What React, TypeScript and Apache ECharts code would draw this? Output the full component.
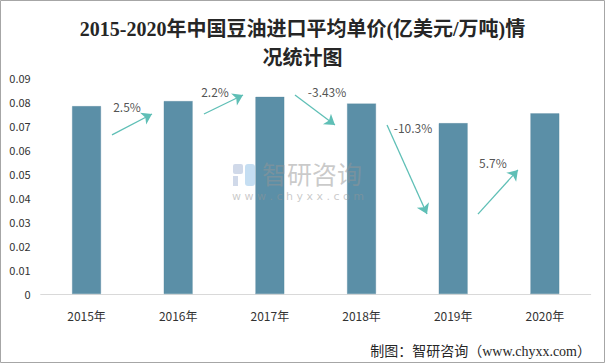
import React, { useEffect, useRef } from "react";
import * as echarts from "echarts";

const categories = ["2015年", "2016年", "2017年", "2018年", "2019年", "2020年"];
const prices = [0.0783, 0.0804, 0.0822, 0.0794, 0.0712, 0.0753];
const yTicks = [0, 0.01, 0.02, 0.03, 0.04, 0.05, 0.06, 0.07, 0.08, 0.09];
const growthLabels = ["2.5%", "2.2%", "-3.43%", "-10.3%", "5.7%"];
// arrow annotations in (category position, value) space
const arrowStarts: [number, number][] = [
  [0.278, 0.0663],
  [1.281, 0.075],
  [2.274, 0.0829],
  [3.278, 0.0704],
  [4.27, 0.0333],
];
const arrowEnds: [number, number][] = [
  [0.714, 0.075],
  [1.707, 0.0829],
  [2.71, 0.0704],
  [3.714, 0.0333],
  [4.706, 0.0517],
];
const labelPositions: [number, number][] = [
  [0.442, 0.0783],
  [1.402, 0.0842],
  [2.624, 0.0842],
  [3.562, 0.0692],
  [4.434, 0.055],
];

const TITLE_LINE1 = "2015-2020年中国豆油进口平均单价(亿美元/万吨)情";
const TITLE_LINE2 = "况统计图";
const SOURCE = "制图：智研咨询（www.chyxx.com）";

export default function App() {
  const ref = useRef<HTMLDivElement>(null);
  useEffect(() => {
    document.body.style.margin = "0";
    const chart = echarts.init(ref.current!, null, { renderer: "svg" });
    const sans = "'Noto Sans CJK SC', 'Noto Sans', sans-serif";
    const serif = "'Liberation Serif', 'DejaVu Serif', 'Noto Sans CJK SC', serif";
    const wm = "rgba(150,150,150,0.5)";
    chart.setOption({
      animation: false,
      backgroundColor: "#ffffff",
      grid: { left: 40.7, right: 14.3, top: 78, bottom: 69 },
      xAxis: [
        {
          type: "category",
          data: categories,
          axisLine: { lineStyle: { color: "#d9d9d9", width: 1 } },
          axisTick: { show: false },
          axisLabel: { color: "#333", fontSize: 12, fontFamily: sans, margin: 15 },
        },
        { type: "value", min: -0.5, max: 5.5, show: false },
      ],
      yAxis: {
        type: "value",
        min: 0,
        max: 0.09,
        interval: 0.01,
        axisLine: { show: false },
        axisTick: { show: false },
        splitLine: { show: false },
        axisLabel: {
          color: "#333",
          fontSize: 11,
          fontFamily: sans,
          margin: 10,
          formatter: (v: number) => {
            const t = yTicks.find((x) => Math.abs(x - v) < 1e-9);
            return t === 0 ? "0" : (t ?? v).toFixed(2);
          },
        },
      },
      series: [
        {
          type: "bar",
          data: prices,
          barWidth: 29,
          itemStyle: { color: "#5b8fa7", borderColor: "#4f8098", borderWidth: 0.5, borderType: "dotted" },
          xAxisIndex: 0,
        },
        {
          type: "lines",
          coordinateSystem: "cartesian2d",
          xAxisIndex: 1,
          yAxisIndex: 0,
          symbol: ["none", "arrow"],
          symbolSize: 10,
          lineStyle: { color: "#5fbfb6", width: 1.3, opacity: 1 },
          data: arrowStarts.map((s, i) => ({ coords: [s, arrowEnds[i]] })),
          z: 5,
        },
        {
          type: "scatter",
          xAxisIndex: 1,
          yAxisIndex: 0,
          symbolSize: 1,
          itemStyle: { color: "transparent" },
          data: labelPositions.map((p, i) => ({ value: p, name: growthLabels[i] })),
          label: {
            show: true,
            position: "inside",
            formatter: "{b}",
            color: "#262626",
            fontSize: 12,
            fontFamily: sans,
          },
          z: 6,
        },
      ],
      graphic: [
        {
          type: "rect",
          z: 100,
          shape: { x: 0.5, y: 0.5, width: 604, height: 362 },
          style: { fill: "none", stroke: "#a6a6a6", lineWidth: 1 },
          silent: true,
        },
        {
          type: "text",
          z: 100,
          x: 302.5,
          y: 29,
          style: {
            text: TITLE_LINE1,
            fontSize: 20,
            fontWeight: "bold",
            fontFamily: serif,
            fill: "#262626",
            align: "center",
            verticalAlign: "middle",
          },
        },
        {
          type: "text",
          z: 100,
          x: 302.5,
          y: 58,
          style: {
            text: TITLE_LINE2,
            fontSize: 20,
            fontWeight: "bold",
            fontFamily: serif,
            fill: "#262626",
            align: "center",
            verticalAlign: "middle",
          },
        },
        { type: "rect", z: 100, silent: true, shape: { x: 233, y: 164, width: 10, height: 10, r: 2 }, style: { fill: "rgba(170,185,215,0.55)" } },
        { type: "rect", z: 100, silent: true, shape: { x: 233, y: 176, width: 5, height: 10 }, style: { fill: "rgba(170,185,215,0.55)" } },
        { type: "rect", z: 100, silent: true, shape: { x: 245, y: 164, width: 10, height: 22, r: 3 }, style: { fill: "rgba(140,190,230,0.5)" } },
        {
          type: "text",
          z: 100,
          silent: true,
          x: 262,
          y: 173,
          style: {
            text: "智研咨询",
            fontSize: 25,
            fontFamily: "'Noto Sans CJK SC'",
            fill: wm,
            verticalAlign: "middle",
          },
        },
        {
          type: "text",
          z: 100,
          silent: true,
          x: 232,
          y: 196,
          style: {
            text: "w w w . c h y x x . c o m",
            fontSize: 11,
            fontFamily: "'DejaVu Sans'",
            fill: wm,
            verticalAlign: "middle",
          },
        },
        {
          type: "text",
          z: 100,
          x: 591,
          y: 351,
          style: {
            text: SOURCE,
            fontSize: 14,
            fontFamily: "'Liberation Serif', 'Noto Sans CJK SC'",
            fill: "#262626",
            align: "right",
            verticalAlign: "middle",
          },
        },
      ],
    });
    return () => chart.dispose();
  }, []);
  return <div ref={ref} style={{ width: 605, height: 363 }} />;
}
